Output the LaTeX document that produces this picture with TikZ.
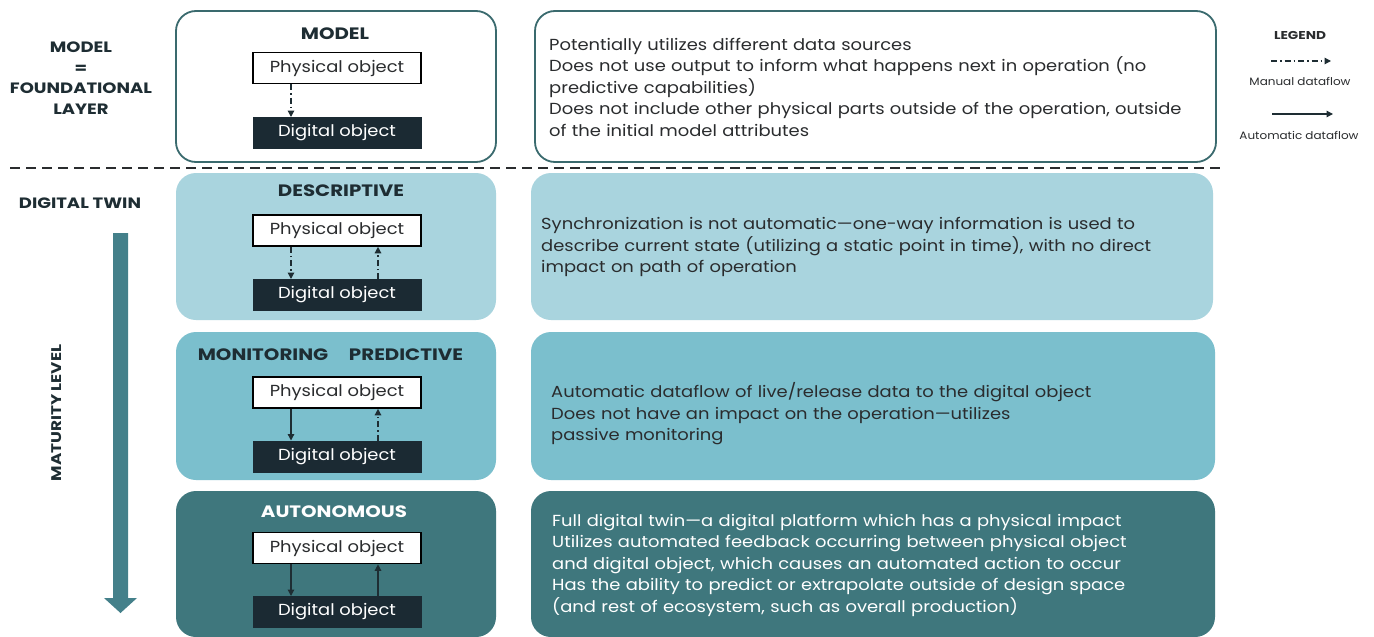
\documentclass[tikz,border=0pt]{standalone}
\usepackage{fontspec}
\setmainfont{Poppins}[FakeStretch=1.12]
\newfontfamily\headf{Poppins}[FakeStretch=1.2]
\usetikzlibrary{arrows.meta}
\definecolor{txt}{HTML}{2A2C2E}
\definecolor{hd}{HTML}{1E2D33}
\definecolor{frame}{HTML}{3A6A6E}
\definecolor{descfill}{HTML}{A9D4DE}
\definecolor{monfill}{HTML}{7BBFCD}
\definecolor{autofill}{HTML}{3F777D}
\definecolor{digfill}{HTML}{1B2A33}
\definecolor{matcol}{HTML}{44808A}
\tikzset{
  outerbox/.style={rounded corners=20pt, inner sep=0pt},
  physbox/.style={draw=black, line width=1.6pt, fill=white, minimum width=168pt, minimum height=31pt, inner sep=0pt, text=txt, font=\fontsize{16}{19}\selectfont},
  digbox/.style={draw=digfill, line width=1pt, fill=digfill, minimum width=168pt, minimum height=31pt, inner sep=0pt, text=white, font=\fontsize{16}{19}\selectfont},
  heading/.style={font=\headf\fontsize{16.5}{19}\selectfont\bfseries, text=hd, inner sep=0pt},
  sidelabel/.style={font=\headf\fontsize{15}{20.5}\selectfont\bfseries, text=hd, align=center, inner sep=0pt},
  bodytext/.style={font=\fontsize{16}{21.5}\selectfont, text=txt, align=left, anchor=west, inner sep=0pt, text width=670pt},
  manual/.style={draw=hd, line width=1.3pt, dash pattern=on 6pt off 3pt on 1.5pt off 3pt, -{Triangle[length=6.5pt,width=6.5pt]}},
  auto/.style={draw=hd, line width=1.3pt, -{Triangle[length=6.5pt,width=6.5pt]}},
  legendtext/.style={font=\fontsize{10.7}{13}\selectfont, text=txt, inner sep=0pt}
}
\begin{document}
\begin{tikzpicture}[x=1pt,y=-1pt]
\useasboundingbox[fill=white] (0,0) rectangle (1374,637);

% left side labels
\node[sidelabel] (lmodel) at (81,78) {MODEL\\=\\FOUNDATIONAL\\LAYER};
\node[sidelabel] (ldt) at (80,203) {DIGITAL TWIN};
\node[sidelabel, font=\headf\fontsize{14}{17}\selectfont\bfseries, rotate=90] (lmat) at (57,413) {MATURITY LEVEL};
\fill[matcol] (113,233) -- (128,233) -- (128,598) -- (137,598) -- (120.5,613) -- (104,598) -- (113,598) -- cycle;

% dashed separator
\coordinate (sep1) at (10,168);
\coordinate (sep2) at (1226,168);
\draw[draw=txt, line width=2.6pt, dash pattern=on 10pt off 6pt] (sep1) -- (sep2);

% ---------------- MODEL row
\node[outerbox, draw=frame, line width=1.8pt, fill=white, minimum width=320pt, minimum height=151pt] (mL) at (336,86.5) {};
\node[outerbox, draw=frame, line width=1.8pt, fill=white, minimum width=681pt, minimum height=151pt] (mR) at (875.5,86.5) {};
\node[heading] (mH) at (335,34) {MODEL};
\node[physbox] (mP) at (337,68) {Physical object};
\node[digbox] (mD) at (337,133) {Digital object};
\draw[manual] ([xshift=-46pt]mP.south) -- ([xshift=-46pt]mD.north);
\node[bodytext] (mT) at (549,87) {Potentially utilizes different data sources\\
Does not use output to inform what happens next in operation (no\\
predictive capabilities)\\
Does not include other physical parts outside of the operation, outside\\
of the initial model attributes};

% ---------------- DESCRIPTIVE row
\node[outerbox, fill=descfill, minimum width=320pt, minimum height=147pt] (dL) at (336,246.5) {};
\node[outerbox, fill=descfill, minimum width=682pt, minimum height=147pt] (dR) at (872,246.5) {};
\node[heading] (dH) at (341,191) {DESCRIPTIVE};
\node[physbox] (dP) at (337,230.5) {Physical object};
\node[digbox] (dD) at (337,295) {Digital object};
\draw[manual] ([xshift=-46pt]dP.south) -- ([xshift=-46pt]dD.north);
\draw[manual] ([xshift=41pt]dD.north) -- ([xshift=41pt]dP.south);
\node[bodytext] (dT) at (541,247) {Synchronization is not automatic---one-way information is used to\\
describe current state (utilizing a static point in time), with no direct\\
impact on path of operation};

% ---------------- MONITORING / PREDICTIVE row
\node[outerbox, fill=monfill, minimum width=320pt, minimum height=148pt] (pL) at (336,406) {};
\node[outerbox, fill=monfill, minimum width=684pt, minimum height=148pt] (pR) at (873,406) {};
\node[heading] (pH1) at (263,355) {MONITORING};
\node[heading] (pH2) at (406,355) {PREDICTIVE};
\node[physbox] (pP) at (337,392.5) {Physical object};
\node[digbox] (pD) at (337,456.5) {Digital object};
\draw[auto] ([xshift=-46pt]pP.south) -- ([xshift=-46pt]pD.north);
\draw[manual] ([xshift=41pt]pD.north) -- ([xshift=41pt]pP.south);
\node[bodytext] (pT) at (551,414) {Automatic dataflow of live/release data to the digital object\\
Does not have an impact on the operation---utilizes\\
passive monitoring};

% ---------------- AUTONOMOUS row
\node[outerbox, fill=autofill, minimum width=320pt, minimum height=146pt] (aL) at (336,564) {};
\node[outerbox, fill=autofill, minimum width=684pt, minimum height=146pt] (aR) at (873,564) {};
\node[heading, text=white] (aH) at (334,512) {AUTONOMOUS};
\node[physbox] (aP) at (337,548) {Physical object};
\node[digbox] (aD) at (337,612) {Digital object};
\draw[auto] ([xshift=-46pt]aP.south) -- ([xshift=-46pt]aD.north);
\draw[auto] ([xshift=41pt]aD.north) -- ([xshift=41pt]aP.south);
\node[bodytext, text=white] (aT) at (552,565) {Full digital twin---a digital platform which has a physical impact\\
Utilizes automated feedback occurring between physical object\\
and digital object, which causes an automated action to occur\\
Has the ability to predict or extrapolate outside of design space\\
(and rest of ecosystem, such as overall production)};

% ---------------- LEGEND
\node[legendtext, font=\headf\fontsize{11.4}{13}\selectfont\bfseries] (lg) at (1300,35) {LEGEND};
\coordinate (lm1) at (1271,61);
\coordinate (lm2) at (1331,61);
\draw[manual] (lm1) -- (lm2);
\node[legendtext] (lmt) at (1300,81) {Manual dataflow};
\coordinate (la1) at (1272,114);
\coordinate (la2) at (1333,114);
\draw[auto] (la1) -- (la2);
\node[legendtext] (lat) at (1299,135) {Automatic dataflow};
\end{tikzpicture}
\end{document}
